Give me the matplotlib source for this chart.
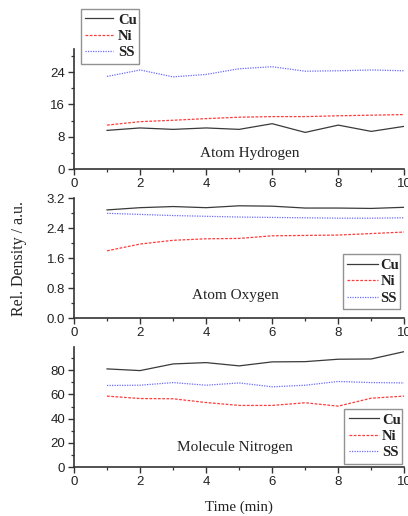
import matplotlib
matplotlib.use("Agg")
import matplotlib.pyplot as plt
from matplotlib.ticker import MultipleLocator, FuncFormatter

time = [1, 2, 3, 4, 5, 6, 7, 8, 9, 10]

h_cu = [9.6, 10.2, 9.85, 10.2, 9.85, 11.25, 9.1, 10.9, 9.35, 10.6]
h_ni = [10.9, 11.75, 12.1, 12.5, 12.85, 13.0, 13.0, 13.2, 13.35, 13.5]
h_ss = [22.9, 24.5, 22.8, 23.4, 24.8, 25.3, 24.2, 24.3, 24.5, 24.3]

o_cu = [2.89, 2.95, 2.98, 2.95, 3.0, 2.99, 2.94, 2.94, 2.93, 2.96]
o_ni = [1.80, 1.98, 2.08, 2.12, 2.13, 2.20, 2.21, 2.22, 2.26, 2.30]
o_ss = [2.80, 2.77, 2.74, 2.72, 2.70, 2.69, 2.68, 2.67, 2.67, 2.68]

n_cu = [81.1, 79.7, 85.2, 86.3, 83.6, 86.9, 87.1, 89.1, 89.3, 95.4]
n_ni = [58.6, 56.6, 56.4, 53.3, 50.9, 50.9, 53.1, 50.3, 56.9, 58.6]
n_ss = [67.4, 67.6, 69.8, 67.6, 69.5, 66.3, 67.6, 70.7, 69.8, 69.5]

series_names = ["Cu", "Ni", "SS"]
panel_titles = ["Atom Hydrogen", "Atom Oxygen", "Molecule Nitrogen"]

W, H = 408, 516
fig = plt.figure(figsize=(W / 100, H / 100), dpi=100)

serif = ["Liberation Serif", "DejaVu Serif"]
sans = ["Liberation Sans", "DejaVu Sans"]

styles = [
    dict(color="#3a3a3a", linestyle="-", linewidth=0.9),
    dict(color="#ff3b3b", linestyle=(0, (2.2, 1.2)), linewidth=0.9),
    dict(color="#6a6aff", linestyle=(0, (1, 1)), linewidth=0.9),
]

left = 74 / W
width = 330.3 / W
ax_h = 120 / H

panels = [
    dict(bottom=(H - 169.3) / H, data=[h_cu, h_ni, h_ss], ylim=(0, 29.6), major=8, minor=4, fmt="{:.0f}",
         title_xy=(250, 154), leg_box=(81, 9, 139.3, 65.7), hl=1.9, htp=0.35),
    dict(bottom=(H - 318.3) / H, data=[o_cu, o_ni, o_ss], ylim=(0, 3.2), major=0.8, minor=0.4, fmt="{:.1f}",
         title_xy=(235, 296), leg_box=(342.7, 254.3, 400, 315), hl=2.1, htp=0.2),
    dict(bottom=(H - 467) / H, data=[n_cu, n_ni, n_ss], ylim=(0, 99.2), major=20, minor=10, fmt="{:.0f}",
         title_xy=(235, 447), leg_box=(344.3, 409, 401.7, 465), hl=2.1, htp=0.2),
]

spine_col = "#333333"
for p, title in zip(panels, panel_titles):
    ax = fig.add_axes([left, p["bottom"], width, ax_h])
    for vals, st, name in zip(p["data"], styles, series_names):
        ax.plot(time, vals, label=name, **st)
    ax.set_xlim(0, 10)
    ax.set_ylim(*p["ylim"])
    ax.xaxis.set_major_locator(MultipleLocator(2))
    ax.xaxis.set_minor_locator(MultipleLocator(1))
    ax.yaxis.set_major_locator(MultipleLocator(p["major"]))
    ax.yaxis.set_minor_locator(MultipleLocator(p["minor"]))
    ax.yaxis.set_major_formatter(FuncFormatter(lambda v, pos, f=p["fmt"]: f.format(v)))
    for s in ["top", "right"]:
        ax.spines[s].set_visible(False)
    for s in ["left", "bottom"]:
        ax.spines[s].set_color(spine_col)
        ax.spines[s].set_linewidth(1.2)
    ax.tick_params(which="major", direction="out", length=4, width=1.0, color=spine_col,
                   labelsize=9.5, pad=2.5, labelcolor="#222222")
    ax.tick_params(which="minor", direction="out", length=2.5, width=0.9, color=spine_col)
    for lab in ax.get_xticklabels() + ax.get_yticklabels():
        lab.set_fontfamily(sans)
    ax.text(p["title_xy"][0] / W, 1 - p["title_xy"][1] / H, title, transform=fig.transFigure,
            ha="center", va="center", fontsize=11, family=serif, color="#222222")
    x0, y0, x1, y1 = p["leg_box"]
    leg = ax.legend(loc="upper left", bbox_to_anchor=(x0 / W, 1 - y1 / H, (x1 - x0) / W, (y1 - y0) / H),
                    bbox_transform=fig.transFigure, mode="expand",
                    prop=dict(family=serif, size=10.5, weight="bold"), frameon=True, fancybox=False,
                    handlelength=p["hl"], handletextpad=p["htp"], borderpad=0.3, labelspacing=0.22,
                    borderaxespad=0)
    leg.get_frame().set_edgecolor("#777777")
    leg.get_frame().set_linewidth(1.0)
    for t in leg.get_texts():
        t.set_color("#222222")
    leg.set_clip_on(False)

fig.text(19 / W, 1 - 259 / H, "Rel. Density / a.u.", rotation=90, ha="center", va="center",
         fontsize=11.5, family=serif, color="#222222")
fig.text(239 / W, 1 - 507 / H, "Time (min)", ha="center", va="center",
         fontsize=10.8, family=serif, color="#222222")

fig.savefig("out.png", dpi=100)
